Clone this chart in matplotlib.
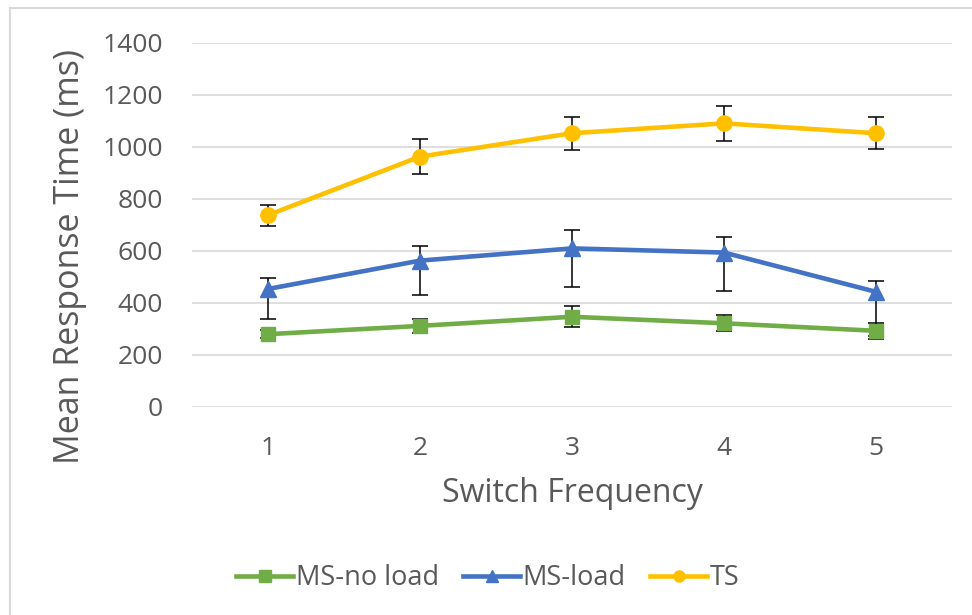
import numpy as np
import matplotlib.pyplot as plt
from matplotlib.lines import Line2D

plt.rcParams['font.family'] = ['Open Sans', 'DejaVu Sans']

freq = [1, 2, 3, 4, 5]
ms_noload = [280, 312, 347, 322, 293]
ms_noload_err = [15, 28, 40, 30, 31]
ms_load = [454, 563, 610, 594, 443]
ms_load_lo = [114, 134, 147, 147, 170]
ms_load_hi = [43, 58, 69, 61, 43]
ts = [738, 963, 1053, 1091, 1053]
ts_err = [40, 66, 64, 67, 62]

green = '#70AD47'
blue = '#4472C4'
yellow = '#FFC000'
txt = '#595959'

fig = plt.figure(figsize=(9.72, 6.15), dpi=100)
ax = fig.add_axes([192 / 972, 1 - 407 / 615, 760 / 972, 364 / 615])

# error bars under the lines
ax.errorbar(freq, ts, yerr=ts_err, fmt='none', ecolor='black', elinewidth=1.1,
            capsize=6, capthick=1.1, zorder=2)
ax.errorbar(freq, ms_load, yerr=[ms_load_lo, ms_load_hi], fmt='none', ecolor='black',
            elinewidth=1.1, capsize=6, capthick=1.1, zorder=2)
ax.errorbar(freq, ms_noload, yerr=ms_noload_err, fmt='none', ecolor='black',
            elinewidth=1.1, capsize=6, capthick=1.1, zorder=2)

ax.plot(freq, ms_noload, color=green, lw=3.3, marker='s', ms=10.5, zorder=3)
ax.plot(freq, ms_load, color=blue, lw=3.3, marker='^', ms=12, zorder=3)
ax.plot(freq, ts, color=yellow, lw=3.3, marker='o', ms=11, zorder=3)

ax.set_xlim(0.5, 5.5)
ax.set_ylim(0, 1400)
ax.set_yticks(np.arange(0, 1401, 200))
ax.set_xticks(freq)
ax.yaxis.grid(True, color='#D9D9D9', lw=1.2)
ax.set_axisbelow(True)
for s in ax.spines.values():
    s.set_visible(False)
ax.tick_params(axis='both', length=0, labelsize=19, labelcolor=txt)
ax.tick_params(axis='y', pad=21)
ax.tick_params(axis='x', pad=21)

# axis titles placed as in the original layout
fig.text(70 / 972, 1 - 256 / 615, 'Mean Response Time (ms)', rotation=90,
         ha='center', va='center', fontsize=24.5, color=txt)
fig.text(572 / 972, 1 - 493 / 615, 'Switch Frequency', ha='center', va='center',
         fontsize=23, color=txt)

handles = [
    Line2D([], [], color=green, lw=3.3, marker='s', ms=8),
    Line2D([], [], color=blue, lw=3.3, marker='^', ms=9),
    Line2D([], [], color=yellow, lw=3.3, marker='o', ms=8),
]
leg = fig.legend(handles, ['MS-no load', 'MS-load', 'TS'], loc='center',
                 bbox_to_anchor=(0.502, 0.060), ncol=3, frameon=False, fontsize=19.5,
                 handlelength=2.1, handletextpad=0.1, columnspacing=0.9)
for t in leg.get_texts():
    t.set_color(txt)

# chart frame (left and top edges visible)
fig.add_artist(Line2D([10 / 972, 10 / 972], [0, 1 - 8 / 615], color='#D9D9D9', lw=1.5,
                      transform=fig.transFigure))
fig.add_artist(Line2D([10 / 972, 1], [1 - 8 / 615, 1 - 8 / 615], color='#D9D9D9', lw=1.5,
                      transform=fig.transFigure))

fig.savefig('out.png', dpi=100)
